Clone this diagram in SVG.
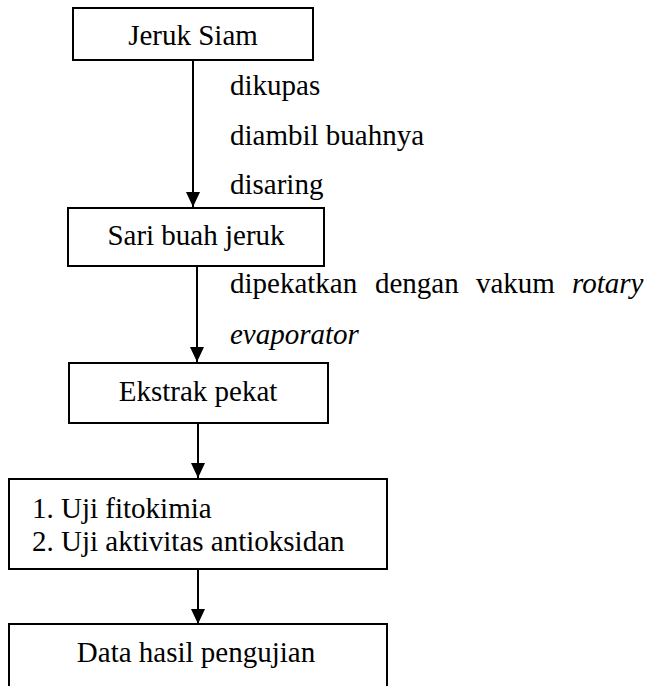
<svg xmlns="http://www.w3.org/2000/svg" width="651" height="686" viewBox="0 0 651 686">
<defs>
<marker id="ah" markerUnits="userSpaceOnUse" markerWidth="16" markerHeight="16" viewBox="0 0 16 16" refX="15" refY="8" orient="auto">
<path d="M0,1 L15,8 L0,15 Z" fill="#000"/>
</marker>
</defs>
<rect width="651" height="686" fill="#fff"/>
<g id="connectors" stroke="#000" stroke-width="2" fill="none">
<line x1="193" y1="60" x2="193" y2="207" marker-end="url(#ah)"/>
<line x1="197" y1="266" x2="197" y2="362" marker-end="url(#ah)"/>
<line x1="198" y1="423" x2="198" y2="478" marker-end="url(#ah)"/>
<line x1="198" y1="569" x2="198" y2="624" marker-end="url(#ah)"/>
</g>
<g id="labels" fill="#000">
<text font-family="Liberation Serif" font-size="29" x="230" y="95">dikupas</text>
<text font-family="Liberation Serif" font-size="29" x="230" y="145">diambil buahnya</text>
<text font-family="Liberation Serif" font-size="29" x="230" y="194">disaring</text>
<text font-family="Liberation Serif" font-size="29" x="230" y="293">dipekatkan</text>
<text font-family="Liberation Serif" font-size="29" x="375" y="293">dengan</text>
<text font-family="Liberation Serif" font-size="29" x="476" y="293">vakum</text>
<text font-family="Liberation Serif" font-size="29" font-style="italic" x="572" y="293">rotary</text>
<text font-family="Liberation Serif" font-size="29" font-style="italic" x="230" y="344">evaporator</text>
</g>
<g id="jeruk-siam">
<rect x="73" y="8" width="240" height="52" fill="#fff" stroke="#000" stroke-width="2"/>
<text font-family="Liberation Serif" font-size="29" text-anchor="middle" x="193" y="45">Jeruk Siam</text>
</g>
<g id="sari-buah">
<rect x="68" y="208" width="256" height="58" fill="#fff" stroke="#000" stroke-width="2"/>
<text font-family="Liberation Serif" font-size="29" text-anchor="middle" x="196" y="245">Sari buah jeruk</text>
</g>
<g id="ekstrak-pekat">
<rect x="69" y="363" width="259" height="60" fill="#fff" stroke="#000" stroke-width="2"/>
<text font-family="Liberation Serif" font-size="29" text-anchor="middle" x="198" y="401">Ekstrak pekat</text>
</g>
<g id="uji">
<rect x="9" y="479" width="378" height="90" fill="#fff" stroke="#000" stroke-width="2"/>
<text font-family="Liberation Serif" font-size="29" x="32" y="518">1.</text>
<text font-family="Liberation Serif" font-size="29" x="61" y="518">Uji fitokimia</text>
<text font-family="Liberation Serif" font-size="29" x="32" y="551">2.</text>
<text font-family="Liberation Serif" font-size="29" x="61" y="551">Uji aktivitas antioksidan</text>
</g>
<g id="data-hasil">
<rect x="9" y="624" width="378" height="80" fill="#fff" stroke="#000" stroke-width="2"/>
<text font-family="Liberation Serif" font-size="29" text-anchor="middle" x="196" y="662">Data hasil pengujian</text>
</g>
</svg>
